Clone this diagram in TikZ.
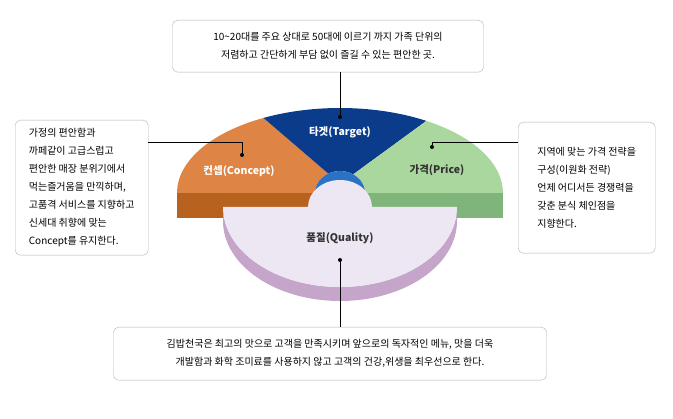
\documentclass[tikz,border=0pt]{standalone}
\usepackage{fontspec}
\setmainfont{Noto Sans CJK KR}
\usetikzlibrary{calc}
\definecolor{tgt}{HTML}{0B3C8C}
\definecolor{cpt}{HTML}{DE8444}
\definecolor{cptS}{HTML}{B8621F}
\definecolor{prc}{HTML}{A9D79E}
\definecolor{prcS}{HTML}{7FB47A}
\definecolor{qlt}{HTML}{ECE7F3}
\definecolor{qltS}{HTML}{C6A5CB}
\definecolor{hole}{HTML}{2C72C2}
\tikzset{
 txtbox/.style={draw=black!30,rounded corners=5pt,fill=white,align=left,font=\fontsize{10}{18}\selectfont,inner sep=6pt,anchor=north west},
 conn/.style={draw=black,line width=0.7pt},
 dot/.style={circle,fill=black,inner sep=0pt,minimum size=4pt},
 seglabel/.style={font=\bfseries\fontsize{10.5}{12}\selectfont}
}
\begin{document}
\begin{tikzpicture}[x=1pt,y=-1pt]
\useasboundingbox (0,0) rectangle (673,419);
\coordinate (C) at (340,193);
\coordinate (Q) at (340,207);
\fill[cptS] ($(C)+(-163,0)$) rectangle ($(C)+(-25,25)$);
\fill[prcS] ($(C)+(25,0)$) rectangle ($(C)+(163,25)$);
\fill[hole!70!black] ($(C)+(-25,0)$) rectangle ($(C)+(25,25)$);
\fill[cpt] ($(C)+(-163,0)$) arc[start angle=-180,end angle=-118,x radius=163,y radius=85]
  -- ($(C)+(-118:25 and 22)$) arc[start angle=-118,end angle=-180,x radius=25,y radius=22] -- cycle;
\fill[tgt] ($(C)+(-118:163 and 85)$) arc[start angle=-118,end angle=-58,x radius=163,y radius=85]
  -- ($(C)+(-58:25 and 22)$) arc[start angle=-58,end angle=-118,x radius=25,y radius=22] -- cycle;
\fill[prc] ($(C)+(-58:163 and 85)$) arc[start angle=-58,end angle=0,x radius=163,y radius=85]
  -- ($(C)+(25,0)$) arc[start angle=0,end angle=-58,x radius=25,y radius=22] -- cycle;
\fill[hole] ($(C)+(-25,0)$) arc[start angle=-180,end angle=0,x radius=25,y radius=22] -- cycle;
\fill[qltS] ($(Q)+(-117,0)$) -- ($(Q)+(-117,14)$) arc[start angle=180,end angle=0,x radius=117,y radius=80]
  -- ($(Q)+(117,0)$) arc[start angle=0,end angle=180,x radius=117,y radius=80] -- cycle;
\fill[qlt] ($(Q)+(-117,0)$) -- ($(Q)+(-32,0)$) arc[start angle=-180,end angle=0,x radius=32,y radius=27]
  -- ($(Q)+(117,0)$) arc[start angle=0,end angle=180,x radius=117,y radius=80] -- cycle;
\node[seglabel,text=white] (lt) at (340,132) {타겟(Target)};
\node[seglabel,text=white] (lc) at (239,171) {컨셉(Concept)};
\node[seglabel,text=black!80] (lp) at (437,170) {가격(Price)};
\node[seglabel,text=black!80] (lq) at (340,238) {품질(Quality)};
\node[dot] (dt) at (340,117) {};
\node[dot] (dc) at (242,155) {};
\node[dot] (dp) at (432,147) {};
\node[dot] (dq) at (340,260) {};
\node[txtbox,minimum width=311pt,minimum height=52pt,align=center,anchor=north] (bt) at (328,20) {10\textasciitilde20대를 주요 상대로 50대에 이르기 까지 가족 단위의\\저렴하고 간단하게 부담 없이 즐길 수 있는 편안한 곳.};
\node[txtbox,minimum width=133pt,minimum height=135pt] (bl) at (15,120) {가정의 편안함과\\까페같이 고급스럽고\\편안한 매장 분위기에서\\먹는즐거움을 만끽하며,\\고품격 서비스를 지향하고\\신세대 취향에 맞는\\Concept를 유지한다.};
\node[txtbox,minimum width=137pt,minimum height=131pt] (br) at (518,122) {지역에 맞는 가격 전략을\\구성(이원화 전략)\\언제 어디서든 경쟁력을\\갖춘 분식 체인점을\\지향한다.};
\node[txtbox,minimum width=433pt,minimum height=53pt,align=center,anchor=north] (bb) at (330,327) {김밥천국은 최고의 맛으로 고객을 만족시키며 앞으로의 독자적인 메뉴, 맛을 더욱\\개발함과 화학 조미료를 사용하지 않고 고객의 건강,위생을 최우선으로 한다.};
\draw[conn] (dt) -- (dt |- bt.south);
\draw[conn] (bl.east |- 0,142) -| (dc);
\draw[conn] (br.west |- 0,142) -| (dp);
\draw[conn] (dq) -- (dq |- bb.north);
\end{tikzpicture}
\end{document}
